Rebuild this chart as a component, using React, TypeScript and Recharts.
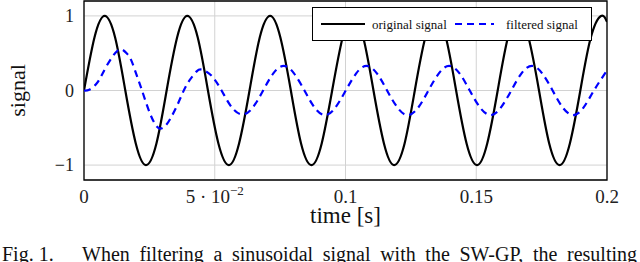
import { LineChart, Line, XAxis, YAxis, CartesianGrid, ReferenceArea } from "recharts";

// original signal (peaks / zeros / half-way points)
const origTime = [
  0, 0.004, 0.0079, 0.0119, 0.0158, 0.0198, 0.0237, 0.0277, 0.0316, 0.0356,
  0.0395, 0.0435, 0.0474, 0.0514, 0.0554, 0.0593, 0.0633, 0.0672, 0.0712, 0.0751,
  0.0791, 0.083, 0.087, 0.0909, 0.0949, 0.0989, 0.1028, 0.1068, 0.1107, 0.1147,
  0.1186, 0.1226, 0.1265, 0.1305, 0.1344, 0.1384, 0.1423, 0.1463, 0.1503, 0.1542,
  0.1582, 0.1621, 0.1661, 0.17, 0.174, 0.1779, 0.1819, 0.1858, 0.1898, 0.1938,
  0.1977, 0.2,
];
const origValue = [
  0, 0.71, 1, 0.71, 0, -0.71, -1, -0.71, 0, 0.71,
  1, 0.71, 0, -0.71, -1, -0.71, 0, 0.71, 1, 0.71,
  0, -0.71, -1, -0.71, 0, 0.71, 1, 0.71, 0, -0.71,
  -1, -0.71, 0, 0.71, 1, 0.71, 0, -0.71, -1, -0.71,
  0, 0.71, 1, 0.71, 0, -0.71, -1, -0.71, 0, 0.71,
  1, 0.92,
];

// filtered signal
const filtTime = [
  0, 0.002, 0.0045, 0.0064, 0.0085, 0.0108, 0.0127, 0.0145, 0.0163, 0.018,
  0.02, 0.022, 0.0246, 0.027, 0.029, 0.0312, 0.0333, 0.0355, 0.0375, 0.0395,
  0.0415, 0.0432, 0.045, 0.0487, 0.0526, 0.0566, 0.0606, 0.0645, 0.0685, 0.0724,
  0.0764, 0.0803, 0.0843, 0.0882, 0.0922, 0.0961, 0.1001, 0.1041, 0.108, 0.112,
  0.1159, 0.1199, 0.1238, 0.1278, 0.1317, 0.1357, 0.1396, 0.1436, 0.1475, 0.1515,
  0.1555, 0.1594, 0.1634, 0.1673, 0.1713, 0.1752, 0.1792, 0.1831, 0.1871, 0.191,
  0.195, 0.2,
];
const filtValue = [
  0, 0.01, 0.08, 0.18, 0.32, 0.45, 0.53, 0.55, 0.5, 0.41,
  0.22, 0.02, -0.25, -0.44, -0.51, -0.47, -0.36, -0.21, -0.05, 0.09,
  0.19, 0.26, 0.28, 0.2, 0, -0.23, -0.32, -0.23, 0, 0.23,
  0.33, 0.23, 0, -0.23, -0.33, -0.23, 0, 0.23, 0.33, 0.23,
  0, -0.23, -0.33, -0.23, 0, 0.23, 0.33, 0.23, 0, -0.23,
  -0.33, -0.23, 0, 0.23, 0.33, 0.23, 0, -0.23, -0.33, -0.23,
  0, 0.27,
];

const seriesNames = ["original signal", "filtered signal"];
const xTicks = [0, 0.05, 0.1, 0.15, 0.2];
const xTickLabels = ["0", "5 · 10^−2", "0.1", "0.15", "0.2"];
const yTicks = [-1, 0, 1];
const yTickLabels = ["−1", "0", "1"];
const xTitle = "time [s]";
const yTitle = "signal";
const captionLead = "Fig. 1.";
const captionText = "When filtering a sinusoidal signal with the SW-GP, the resulting";

const origData = origTime.map((t, i) => ({ t, v: origValue[i] }));
const filtData = filtTime.map((t, i) => ({ t, v: filtValue[i] }));

const serif = "'Liberation Serif', 'DejaVu Serif', serif";

function XTick(props: any) {
  const { x, y, payload } = props;
  const idx = xTicks.indexOf(payload.value);
  const label = idx >= 0 ? xTickLabels[idx] : String(payload.value);
  const [base, exp] = label.split("^");
  return (
    <text x={x} y={y} dy="0.71em" textAnchor="middle" fontSize={19} fontFamily={serif} fill="#222">
      {base}
      {exp && (
        <tspan dy={-8} fontSize={13}>
          {exp}
        </tspan>
      )}
    </text>
  );
}

function XTitle(props: any) {
  const vb = props.viewBox;
  return (
    <text x={vb.x + vb.width / 2} y={vb.y + 43} textAnchor="middle" fontSize={23} fontFamily={serif} fill="#111">
      {xTitle}
    </text>
  );
}

function YTitle(props: any) {
  const vb = props.viewBox;
  const cx = vb.x + 25;
  const cy = vb.y + vb.height / 2;
  return (
    <text x={cx} y={cy} transform={`rotate(-90, ${cx}, ${cy})`} textAnchor="middle" fontSize={22} fontFamily={serif} fill="#111">
      {yTitle}
    </text>
  );
}

export default function App() {
  return (
    <div style={{ position: "absolute", left: 0, top: 0, width: 640, height: 262, overflow: "hidden", background: "#fff" }}>
      <LineChart width={640} height={240} margin={{ top: 1, right: 33, bottom: 0, left: 0 }}>
        <CartesianGrid stroke="#d2d2d2" strokeWidth={1} />
        <XAxis
          dataKey="t"
          type="number"
          domain={[0, 0.2]}
          ticks={xTicks}
          tick={<XTick />}
          tickLine={false}
          axisLine={false}
          tickSize={6}
          tickMargin={4}
          height={60}
          allowDataOverflow
          label={{ content: <XTitle /> }}
        />
        <YAxis
          type="number"
          domain={[-1.2, 1.2]}
          ticks={yTicks}
          tickFormatter={(v: number) => yTickLabels[yTicks.indexOf(v)]}
          tick={{ fontSize: 18, fontFamily: serif, fill: "#222" }}
          tickLine={false}
          axisLine={false}
          tickSize={6}
          tickMargin={4}
          width={84}
          allowDataOverflow
          label={{ content: <YTitle /> }}
        />
        <Line
          data={origData}
          dataKey="v"
          type="natural"
          stroke="#000"
          strokeWidth={2.2}
          dot={false}
          isAnimationActive={false}
        />
        <Line
          data={filtData}
          dataKey="v"
          type="natural"
          stroke="#0000ff"
          strokeWidth={2.2}
          strokeDasharray="7 5"
          dot={false}
          isAnimationActive={false}
        />
        <ReferenceArea x1={0} x2={0.2} y1={-1.2} y2={1.2} fill="none" fillOpacity={0} stroke="#000" strokeWidth={1.3} />
      </LineChart>

      {/* legend box */}
      <svg style={{ position: "absolute", left: 312, top: 7 }} width={281} height={35}>
        <rect x={0.5} y={0.5} width={279} height={33} fill="#fff" stroke="#000" strokeWidth={1} />
        <line x1={9} x2={53} y1={17} y2={17} stroke="#000" strokeWidth={2.2} />
        <text x={60} y={21.5} fontSize={13} fontFamily={serif} fill="#111">
          {seriesNames[0]}
        </text>
        <line x1={143} x2={182} y1={17} y2={17} stroke="#0000ff" strokeWidth={2.2} strokeDasharray="7 5" />
        <text x={194} y={21.5} fontSize={13} fontFamily={serif} fill="#111">
          {seriesNames[1]}
        </text>
      </svg>

      {/* caption */}
      <div style={{ position: "absolute", left: 2, top: 244, fontFamily: serif, fontSize: 20, lineHeight: "20px", color: "#111", whiteSpace: "nowrap" }}>
        {captionLead}
      </div>
      <div
        style={{
          position: "absolute",
          left: 82,
          top: 244,
          width: 555,
          fontFamily: serif,
          fontSize: 20,
          lineHeight: "20px",
          color: "#111",
          textAlign: "justify",
          textAlignLast: "justify",
        }}
      >
        {captionText}
      </div>
    </div>
  );
}
